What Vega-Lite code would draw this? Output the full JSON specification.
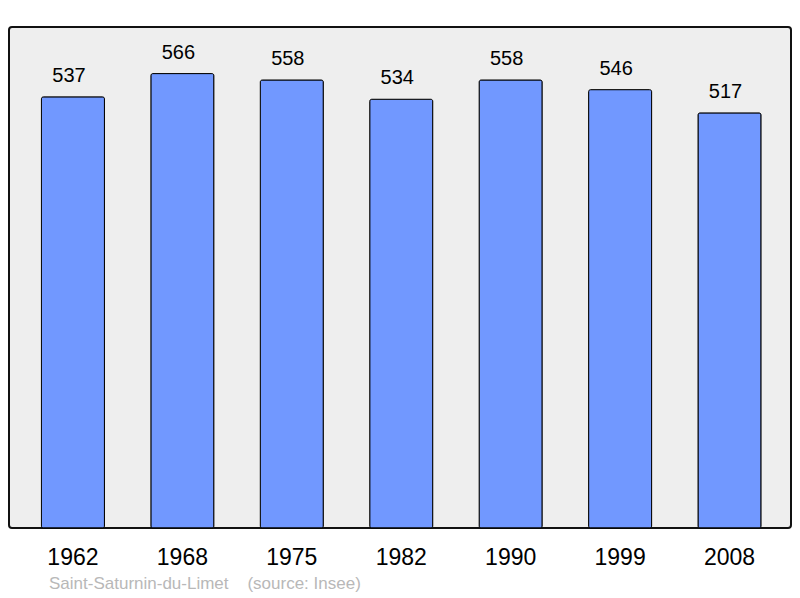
{
  "$schema": "https://vega.github.io/schema/vega-lite/v6.json",
  "autosize": "none",
  "width": 782,
  "height": 501,
  "padding": {"left": 9, "top": 27, "right": 9, "bottom": 70},
  "background": "white",
  "config": {
    "view": {"fill": "#eeeeee", "stroke": "#111111", "strokeWidth": 2, "cornerRadius": 3},
    "font": "Liberation Sans"
  },
  "title": {
    "text": "Saint-Saturnin-du-Limet\u00a0\u00a0\u00a0\u00a0(source: Insee)",
    "orient": "bottom",
    "anchor": "start",
    "dx": 40,
    "offset": 7,
    "fontSize": 17,
    "fontWeight": "normal",
    "color": "#b8b8b8",
    "font": "Liberation Sans"
  },
  "data": {
    "values": [
      {"year": "1962", "pop": 537},
      {"year": "1968", "pop": 566},
      {"year": "1975", "pop": 558},
      {"year": "1982", "pop": 534},
      {"year": "1990", "pop": 558},
      {"year": "1999", "pop": 546},
      {"year": "2008", "pop": 517}
    ]
  },
  "encoding": {
    "x": {
      "field": "year",
      "type": "nominal",
      "sort": null,
      "scale": {"paddingInner": 0.424, "paddingOuter": 0.285, "align": 0.52},
      "axis": {
        "title": null,
        "labelAngle": 0,
        "labelFontSize": 23,
        "labelColor": "#000000",
        "labelBaseline": "alphabetic",
        "labelPadding": 36,
        "ticks": false,
        "tickSize": 0,
        "domain": false,
        "grid": false
      }
    },
    "y": {
      "field": "pop",
      "type": "quantitative",
      "scale": {"domain": [0, 624], "nice": false, "zero": true},
      "axis": null
    }
  },
  "layer": [
    {
      "mark": {"type": "bar", "fill": "#7198ff", "stroke": "#000000", "strokeWidth": 1, "cornerRadius": 2}
    },
    {
      "mark": {"type": "text", "baseline": "alphabetic", "dy": -15, "dx": -4, "fontSize": 20, "color": "#000000"},
      "encoding": {"text": {"field": "pop", "type": "quantitative"}}
    }
  ]
}
